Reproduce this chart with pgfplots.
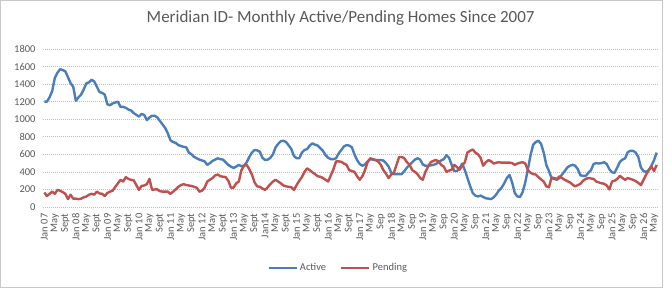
\documentclass[border=0pt]{standalone}
\usepackage{pgfplots}
\pgfplotsset{compat=1.18}
\usepackage{pgfplotstable}
\usepackage{fontspec}
\setmainfont{Carlito}
\definecolor{actblue}{RGB}{74,126,187}
\definecolor{pendred}{RGB}{192,80,77}
\definecolor{txtgray}{RGB}{89,89,89}
\definecolor{gridgray}{RGB}{190,190,190}
\definecolor{framegray}{RGB}{200,200,200}
\pgfplotstableread{
m a p
0 1200 165
1 1200 125
2 1250 150
3 1320 175
4 1470 150
5 1530 195
6 1570 185
7 1560 170
8 1545 150
9 1480 90
10 1410 140
11 1370 95
12 1210 95
13 1250 90
14 1280 95
15 1340 110
16 1410 120
17 1420 140
18 1450 150
19 1430 140
20 1370 175
21 1310 155
22 1300 150
23 1280 125
24 1170 160
25 1160 175
26 1180 185
27 1190 230
28 1200 270
29 1140 310
30 1140 290
31 1130 340
32 1110 320
33 1100 310
34 1070 305
35 1050 250
36 1030 195
37 1060 240
38 1050 245
39 990 260
40 1020 320
41 1040 195
42 1040 200
43 1020 200
44 980 180
45 940 175
46 900 175
47 840 175
48 760 150
49 740 175
50 730 200
51 705 230
52 695 250
53 685 260
54 680 250
55 620 245
56 600 240
57 570 230
58 555 220
59 540 175
60 530 185
61 520 220
62 480 290
63 500 310
64 525 330
65 540 360
66 555 370
67 545 350
68 540 345
69 510 340
70 480 300
71 460 220
72 445 220
73 460 270
74 480 290
75 465 420
76 470 470
77 510 480
78 570 430
79 620 370
80 650 280
81 645 235
82 630 230
83 560 210
84 535 195
85 540 225
86 560 260
87 600 290
88 680 310
89 720 290
90 750 270
91 755 245
92 740 235
93 700 230
94 660 225
95 580 195
96 555 250
97 555 300
98 620 340
99 650 400
100 660 440
101 700 420
102 725 395
103 710 375
104 700 350
105 670 345
106 640 330
107 590 310
108 560 290
109 545 360
110 545 430
111 555 520
112 610 520
113 650 515
114 690 495
115 705 480
116 700 420
117 680 410
118 600 400
119 535 350
120 490 310
121 470 350
122 485 420
123 520 510
124 545 555
125 540 545
126 535 535
127 535 520
128 535 480
129 530 420
130 500 380
131 460 330
132 390 370
133 375 390
134 375 480
135 375 570
136 375 570
137 410 555
138 450 510
139 480 480
140 510 420
141 540 400
142 555 375
143 540 330
144 485 310
145 470 400
146 470 460
147 475 510
148 480 525
149 490 535
150 510 520
151 530 480
152 545 460
153 590 400
154 560 415
155 480 425
156 410 480
157 410 455
158 440 425
159 495 470
160 420 510
161 330 620
162 240 640
163 160 655
164 130 620
165 120 600
166 130 560
167 115 470
168 100 510
169 95 535
170 90 520
171 110 495
172 145 505
173 190 510
174 220 505
175 270 505
176 330 505
177 365 505
178 280 500
179 160 480
180 120 495
181 115 505
182 170 510
183 280 495
184 430 420
185 590 390
186 710 375
187 740 370
188 755 340
189 720 315
190 620 290
191 480 235
192 410 225
193 330 335
194 320 330
195 310 320
196 330 350
197 370 330
198 410 310
199 450 295
200 470 280
201 480 255
202 470 235
203 430 250
204 360 265
205 355 300
206 355 320
207 390 330
208 420 325
209 490 320
210 500 290
211 495 280
212 500 270
213 510 265
214 490 245
215 430 200
216 395 290
217 390 300
218 450 320
219 515 355
220 540 330
221 555 310
222 625 330
223 640 320
224 640 310
225 620 295
226 570 275
227 450 250
228 410 310
229 400 370
230 420 420
231 470 460
232 535 410
233 620 480
}\datatable
\begin{document}
\begin{tikzpicture}
\useasboundingbox (-43bp,-81bp) rectangle (629bp,207bp);
\draw[framegray, line width=0.6bp] (-42.5bp,-80.5bp) rectangle (619.5bp,206.5bp);
\begin{axis}[
  at={(0,0)}, anchor=south west,
  scale only axis,
  width=615bp, height=158bp,
  xmin=-0.5, xmax=233.5,
  ymin=0, ymax=1800,
  ytick={0,200,...,1800},
  xtick={0,4,...,232},
  xticklabels={Jan 07,May,Sept,Jan 08,May,Sept,Jan 09,May,Sept,Jan 10,May,Sept,Jan 11,May,Sept,Jan 12,May,Sept,Jan 13,May,Sept,Jan14,May,Sept,Jan 15,May,Sept,Jan 16,May,Sept,Jan 17,May,Sep,Jan 18,May,Sep,Jan 19,May,Sep,Jan 20,May,Sep,Jan 21,May,Sep,Jan 22,May,Sep,Jan 23,May,Sep,Jan 24,May,Sep,Jan 25,May,Sep,Jan 26,May},
  /pgf/number format/assume math mode=true,
  /pgf/number format/1000 sep={},
  axis line style={draw=none},
  major tick length=0pt,
  ymajorgrids,
  grid style={gridgray, line width=0.6bp, dash pattern=on 1.2bp off 0.8bp},
  yticklabel style={font=\fontsize{10.5bp}{12bp}\selectfont, text=txtgray, xshift=-4bp},
  xticklabel style={font=\fontsize{10.5bp}{12bp}\selectfont, text=txtgray, rotate=90, anchor=east, yshift=0bp, xshift=-3bp},
  title={Meridian ID- Monthly Active/Pending Homes Since 2007},
  title style={at={(0.484,1)}, anchor=center, yshift=25bp, font=\fontsize{17bp}{20bp}\selectfont, text=txtgray},
  legend style={at={(0.48,-0.386)}, anchor=center, draw=none, fill=none,
    font=\fontsize{10.5bp}{12bp}\selectfont, text=txtgray,
    legend columns=2, /tikz/every even column/.append style={column sep=12bp}},
  legend image code/.code={\draw[#1, line width=2.5bp] (0bp,0bp) -- (28bp,0bp);},
  clip=false,
]
\addplot[actblue, line width=2.4bp, line join=round] table[x=m, y=a] {\datatable};
\addlegendentry{Active}
\addplot[pendred, line width=2.4bp, line join=round] table[x=m, y=p] {\datatable};
\addlegendentry{Pending}
\end{axis}
\end{tikzpicture}
\end{document}
